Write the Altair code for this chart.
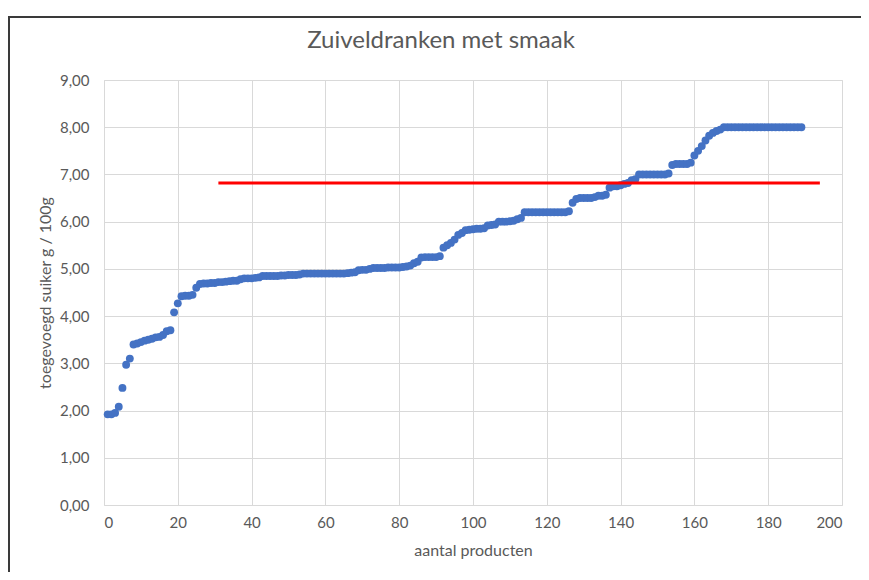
import altair as alt
import pandas as pd

product_index = list(range(1, 190))
added_sugar = [
    1.92, 1.92, 1.95, 2.08, 2.48, 2.97, 3.10, 3.40, 3.42, 3.45,
    3.48, 3.50, 3.52, 3.55, 3.56, 3.60, 3.68, 3.70, 4.08, 4.27,
    4.42, 4.43, 4.43, 4.45, 4.60, 4.68, 4.69, 4.69, 4.70, 4.70,
    4.72, 4.72, 4.73, 4.74, 4.75, 4.75, 4.78, 4.80, 4.80, 4.80,
    4.81, 4.82, 4.85, 4.85, 4.85, 4.85, 4.85, 4.86, 4.86, 4.87,
    4.87, 4.87, 4.88, 4.90, 4.90, 4.90, 4.90, 4.90, 4.90, 4.90,
    4.90, 4.90, 4.90, 4.90, 4.90, 4.91, 4.92, 4.93, 4.97, 4.98,
    4.98, 5.00, 5.02, 5.02, 5.02, 5.02, 5.03, 5.03, 5.03, 5.03,
    5.04, 5.05, 5.07, 5.12, 5.15, 5.24, 5.25, 5.25, 5.25, 5.25,
    5.27, 5.45, 5.50, 5.55, 5.62, 5.72, 5.76, 5.82, 5.83, 5.84,
    5.85, 5.85, 5.86, 5.92, 5.93, 5.94, 6.00, 6.00, 6.00, 6.01,
    6.02, 6.05, 6.08, 6.20, 6.20, 6.20, 6.20, 6.20, 6.20, 6.20,
    6.20, 6.20, 6.20, 6.20, 6.20, 6.22, 6.40, 6.48, 6.50, 6.50,
    6.50, 6.50, 6.52, 6.55, 6.55, 6.57, 6.72, 6.75, 6.75, 6.77,
    6.80, 6.82, 6.88, 6.90, 7.00, 7.00, 7.00, 7.00, 7.00, 7.00,
    7.00, 7.00, 7.02, 7.20, 7.22, 7.22, 7.22, 7.22, 7.25, 7.40,
    7.50, 7.60, 7.72, 7.82, 7.88, 7.92, 7.95, 8.00, 8.00, 8.00,
    8.00, 8.00, 8.00, 8.00, 8.00, 8.00, 8.00, 8.00, 8.00, 8.00,
    8.00, 8.00, 8.00, 8.00, 8.00, 8.00, 8.00, 8.00, 8.00,
]
norm_x = [31, 194]
norm_y = [6.82, 6.82]

points = pd.DataFrame({"x": product_index, "y": added_sugar})
norm = pd.DataFrame({"x": norm_x, "y": norm_y})
one_row = pd.DataFrame({"k": [0]})

FONT = "Lato"
GREY = "#595959"

x_enc = alt.X(
    "x:Q",
    scale=alt.Scale(domain=[0, 200], nice=False),
    axis=alt.Axis(
        title="aantal producten",
        values=list(range(0, 201, 20)),
        grid=True,
        gridColor="#d9d9d9",
        domain=False,
        ticks=False,
        labelPadding=10,
        titlePadding=12,
        labelFontSize=15,
        titleFontSize=16,
        labelFont=FONT,
        titleFont=FONT,
        labelColor=GREY,
        titleColor=GREY,
        titleFontWeight="normal",
    ),
)
y_enc = alt.Y(
    "y:Q",
    scale=alt.Scale(domain=[0, 9], nice=False),
    axis=alt.Axis(
        title="toegevoegd suiker g / 100g",
        values=list(range(0, 10)),
        labelExpr="replace(format(datum.value, '.2f'), '.', ',')",
        grid=True,
        gridColor="#d9d9d9",
        domain=False,
        ticks=False,
        labelPadding=15,
        titlePadding=6,
        labelFontSize=15,
        titleFontSize=16,
        labelFont=FONT,
        titleFont=FONT,
        labelColor=GREY,
        titleColor=GREY,
        titleFontWeight="normal",
    ),
)

scatter = alt.Chart(points).mark_circle(size=62, color="#4472C4", opacity=1).encode(x=x_enc, y=y_enc)
line = alt.Chart(norm).mark_line(color="#FF0000", strokeWidth=3).encode(x="x:Q", y="y:Q")

frame_top = alt.Chart(one_row).mark_rule(color="#3a3a3a", strokeWidth=2).encode(
    x=alt.value(-96), x2=alt.value(757), y=alt.value(-63)
)
frame_left = alt.Chart(one_row).mark_rule(color="#3a3a3a", strokeWidth=2).encode(
    x=alt.value(-95), y=alt.value(-63), y2=alt.value(492)
)

chart = (
    alt.layer(scatter, line, frame_top, frame_left)
    .properties(
        width=738,
        height=425,
        padding={"left": 96, "top": 72, "right": 19, "bottom": 67},
        autosize=alt.AutoSizeParams(type="none"),
        title=alt.TitleParams(
            "Zuiveldranken met smaak",
            fontSize=24,
            font=FONT,
            color=GREY,
            fontWeight="normal",
            anchor="middle",
            dx=-32,
            dy=56,
            offset=19,
        ),
    )
    .configure_view(stroke=None)
    .configure(background="white")
)

chart.save("out.html", embed_options={"renderer": "svg", "actions": False})
